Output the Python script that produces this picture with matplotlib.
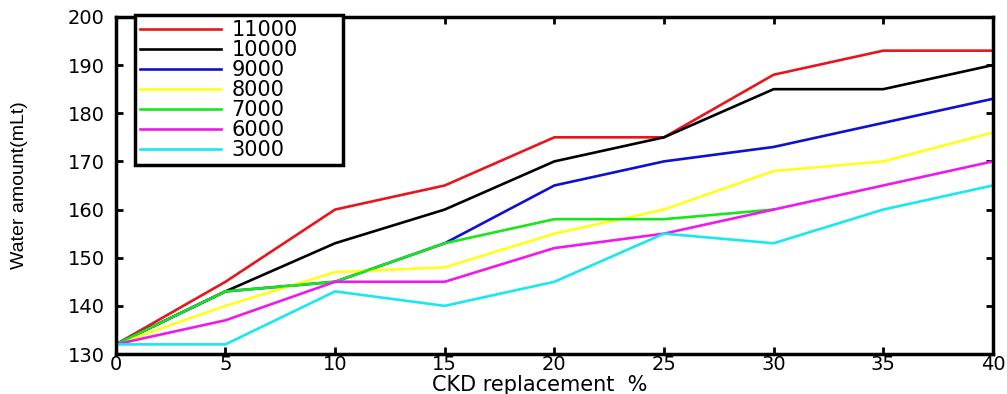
import matplotlib.pyplot as plt

# CKD replacement %
ckd = [0, 5, 10, 15, 20, 25, 30, 35, 40]

# water amount (mLt) for each series
w11000 = [132, 145, 160, 165, 175, 175, 188, 193, 193]
w10000 = [132, 143, 153, 160, 170, 175, 185, 185, 190]
w9000 = [132, 143, 145, 153, 165, 170, 173, 178, 183]
w8000 = [132, 140, 147, 148, 155, 160, 168, 170, 176]
w7000 = [132, 143, 145, 153, 158, 158, 160]
w6000 = [132, 137, 145, 145, 152, 155, 160, 165, 170]
w3000 = [132, 132, 143, 140, 145, 155, 153, 160, 165]

labels = ['11000', '10000', '9000', '8000', '7000', '6000', '3000']
colors = ['#e8161c', 'black', '#1010d0', '#ffff1a', '#19e619', '#ee19ee', '#19e8ee']
series = [w11000, w10000, w9000, w8000, w7000, w6000, w3000]

plt.rcParams['font.family'] = ['DejaVu Sans']
fig = plt.figure(figsize=(10.07, 3.94), dpi=100)
ax = fig.add_axes([0.115, 0.1015, 0.871, 0.8555])

for ys, c, lab in zip(series, colors, labels):
    ax.plot(ckd[:len(ys)], ys, color=c, linewidth=1.9, label=lab)

ax.set_xlim(0, 40)
ax.set_ylim(130, 200)
ax.set_xticks(ckd)
ax.set_yticks(range(130, 201, 10))
ax.tick_params(direction='in', length=5, width=2, labelsize=14,
               top=True, right=True)
ax.tick_params(axis='x', pad=1)
ax.tick_params(axis='y', pad=8)
for s in ax.spines.values():
    s.set_linewidth(2.5)

ax.set_xlabel('CKD replacement  %', fontsize=15)
ax.xaxis.set_label_coords(0.483, -0.062)
ax.set_ylabel('Water amount(mLt)', fontsize=14, family=['Liberation Sans', 'DejaVu Sans'])
ax.yaxis.set_label_coords(-0.1, 0.5)

leg = ax.legend(loc='upper left', bbox_to_anchor=(0.0217, 0, 0.237, 1.006), mode='expand',
                fontsize=15, handlelength=3.9, labelspacing=0.0, borderpad=0.25,
                borderaxespad=0, frameon=True, fancybox=False, edgecolor='black',
                handletextpad=0.5, framealpha=1)
leg.get_frame().set_linewidth(2.5)

fig.savefig('out.png', dpi=100)
